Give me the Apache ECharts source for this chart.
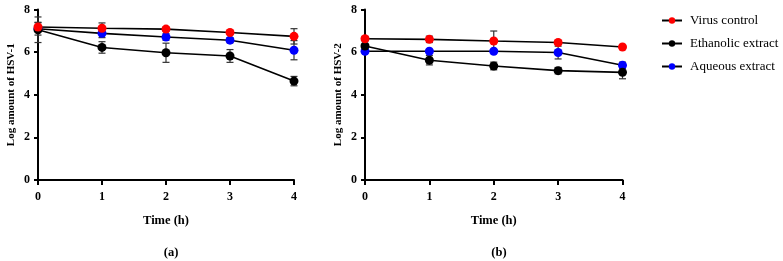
<!DOCTYPE html>
<html><head><meta charset="utf-8">
<script src="https://cdn.jsdelivr.net/npm/echarts@6/dist/echarts.min.js"></script>
<style>html,body{margin:0;padding:0;background:#fff}#c{width:783px;height:261px}</style>
</head><body><div id="c"></div>
<script>
const times = [0, 1, 2, 3, 4];
const seriesNames = ['Virus control', 'Ethanolic extract', 'Aqueous extract'];
const colors = ['#ff0000', '#000000', '#0000ff'];
// HSV-1 (a)
const a_virus = [7.18, 7.12, 7.08, 6.92, 6.74];
const a_virusErr = [0.2, 0.25, 0.1, 0.08, 0.36];
const a_ethanolic = [7.05, 6.22, 5.97, 5.82, 4.64];
const a_ethanolicErr = [0.6, 0.27, 0.45, 0.3, 0.22];
const a_aqueous = [7.1, 6.88, 6.71, 6.56, 6.09];
const a_aqueousErr = [0.3, 0.2, 0.15, 0.12, 0.45];
// HSV-2 (b)
const b_virus = [6.63, 6.6, 6.52, 6.45, 6.24];
const b_virusErr = [0.1, 0.15, 0.47, 0.08, 0.05];
const b_ethanolic = [6.29, 5.62, 5.35, 5.13, 5.05];
const b_ethanolicErr = [0.1, 0.22, 0.18, 0.15, 0.3];
const b_aqueous = [6.04, 6.04, 6.04, 5.98, 5.38];
const b_aqueousErr = [0.08, 0.05, 0.05, 0.3, 0.15];
const yTitles = ['Log amount of HSV-1', 'Log amount of HSV-2'];
const xTitle = 'Time (h)';
const panelLabels = ['(a)', '(b)'];

const FONT = "'Liberation Serif', 'DejaVu Serif', serif";
const panels = [
  [a_virus, a_ethanolic, a_aqueous, a_virusErr, a_ethanolicErr, a_aqueousErr],
  [b_virus, b_ethanolic, b_aqueous, b_virusErr, b_ethanolicErr, b_aqueousErr]
];
const grids = [
  {left: 38, top: 9.5, width: 256, height: 170.5},
  {left: 365, top: 9.5, width: 257.5, height: 170.5}
];
const axisStyle = {lineStyle: {color: '#000', width: 2}};
const xAxes = grids.map((g, i) => ({
  type: 'value', gridIndex: i, min: 0, max: 4, interval: 1,
  axisLine: {show: true, onZero: false, ...axisStyle},
  axisTick: {show: true, length: 5, lineStyle: {color: '#000', width: 2}},
  splitLine: {show: false},
  axisLabel: {color: '#000', fontFamily: FONT, fontWeight: 'bold', fontSize: 12, margin: 11},
  name: xTitle, nameLocation: 'middle', nameGap: 34,
  nameTextStyle: {color: '#000', fontFamily: FONT, fontWeight: 'bold', fontSize: 12.5}
}));
const yAxes = grids.map((g, i) => ({
  type: 'value', gridIndex: i, min: 0, max: 8, interval: 2,
  axisLine: {show: true, ...axisStyle},
  axisTick: {show: true, length: 4, lineStyle: {color: '#000', width: 2}},
  splitLine: {show: false},
  axisLabel: {color: '#000', fontFamily: FONT, fontWeight: 'bold', fontSize: 12, margin: 8},
  name: yTitles[i], nameLocation: 'middle', nameGap: 21,
  nameTextStyle: {color: '#000', fontFamily: FONT, fontWeight: 'bold', fontSize: 11}
}));

const series = [];
const order = [2, 1, 0];
panels.forEach((p, gi) => {
  order.forEach(si => {
    const vals = p[si], errs = p[si + 3];
    series.push({
      type: 'custom', xAxisIndex: gi, yAxisIndex: gi, silent: true, z: 1,
      data: times.map((t, k) => [t, vals[k] - errs[k], vals[k] + errs[k]]),
      renderItem: function (params, api) {
        const lo = api.coord([api.value(0), api.value(1)]);
        const hi = api.coord([api.value(0), api.value(2)]);
        const w = 3.5;
        const st = {stroke: '#333', lineWidth: 1.2};
        return {type: 'group', children: [
          {type: 'line', shape: {x1: lo[0], y1: lo[1], x2: hi[0], y2: hi[1]}, style: st},
          {type: 'line', shape: {x1: lo[0] - w, y1: lo[1], x2: lo[0] + w, y2: lo[1]}, style: st},
          {type: 'line', shape: {x1: hi[0] - w, y1: hi[1], x2: hi[0] + w, y2: hi[1]}, style: st}
        ]};
      }
    });
    series.push({
      type: 'line', name: seriesNames[si], xAxisIndex: gi, yAxisIndex: gi, z: 3,
      data: times.map((t, k) => [t, vals[k]]),
      symbol: 'circle', symbolSize: 9,
      itemStyle: {color: colors[si]},
      lineStyle: {color: '#000', width: 1.6},
      emphasis: {disabled: true}
    });
  });
});

const chart = echarts.init(document.getElementById('c'), null, {renderer: 'canvas'});
chart.setOption({
  animation: false,
  backgroundColor: '#fff',
  grid: grids,
  xAxis: xAxes,
  yAxis: yAxes,
  legend: {
    data: seriesNames, orient: 'vertical', left: 661, top: 14, itemGap: 10,
    itemWidth: 20, itemHeight: 8, padding: 0,
    textStyle: {color: '#000', fontFamily: FONT, fontSize: 13, padding: [0, 0, 0, 3]}
  },
  title: [
    {text: panelLabels[0], left: 166, top: 241, textAlign: 'center',
     textStyle: {fontFamily: FONT, fontWeight: 'bold', fontSize: 12.5, color: '#000'}},
    {text: panelLabels[1], left: 494, top: 241, textAlign: 'center',
     textStyle: {fontFamily: FONT, fontWeight: 'bold', fontSize: 12.5, color: '#000'}}
  ],
  series: series
});
</script></body></html>
